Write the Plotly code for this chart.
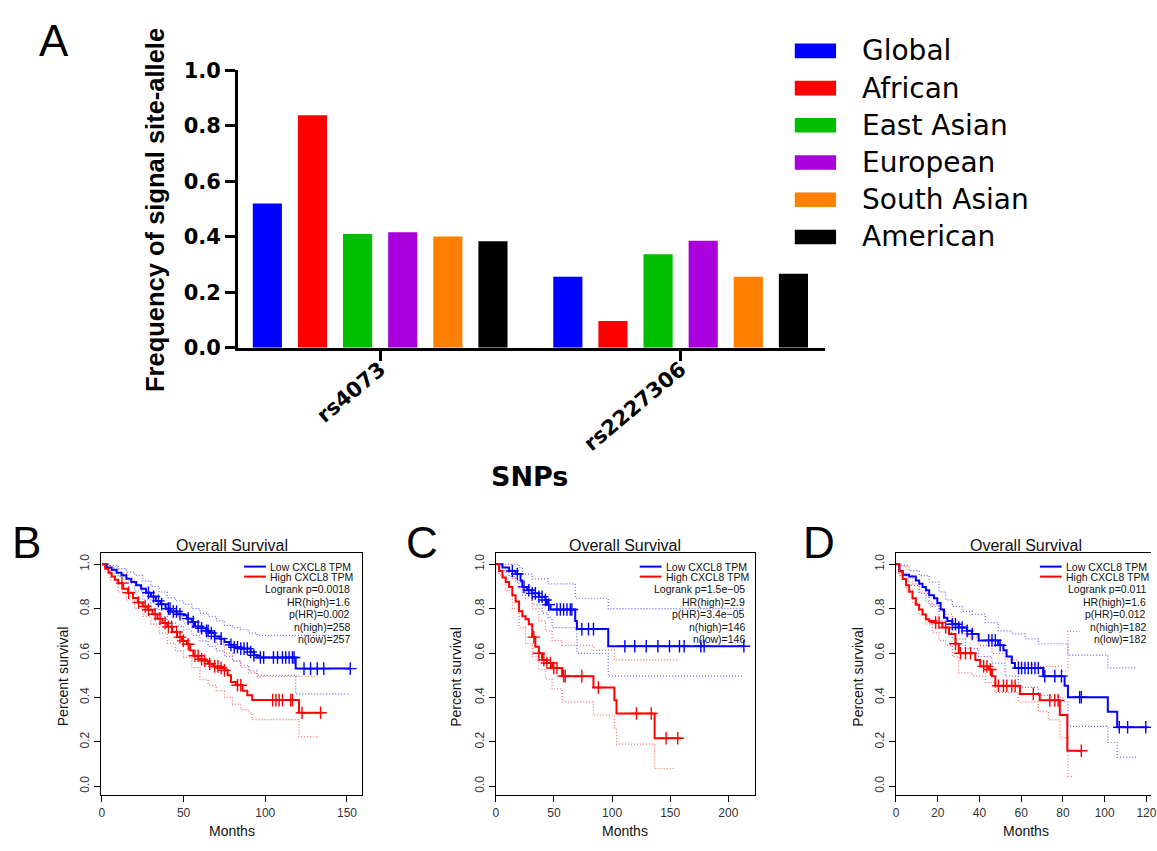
import plotly.graph_objects as go

# ---------------- Panel A data ----------------
snps = ["rs4073", "rs2227306"]
populations = ["Global", "African", "East Asian", "European", "South Asian", "American"]
pop_colors = ["#0000FF", "#FF0000", "#00BF00", "#AA00DD", "#FF8000", "#000000"]
freq_rs4073 = [0.520, 0.838, 0.410, 0.416, 0.401, 0.384]
freq_rs2227306 = [0.256, 0.096, 0.337, 0.386, 0.256, 0.267]
yticks_A = [0.0, 0.2, 0.4, 0.6, 0.8, 1.0]

# ---------------- Panel B data (months, survival) ----------------
B_LOW = [(0, 1.0), (3, 0.985), (6, 0.975), (9, 0.962), (12, 0.95), (15, 0.935), (18, 0.92), (21, 0.905),
         (24, 0.89), (27, 0.872), (30, 0.855), (33, 0.835), (36, 0.82), (39, 0.80), (42, 0.787), (46, 0.775),
         (50, 0.77), (52, 0.755), (55, 0.74), (57, 0.72), (61, 0.712), (64, 0.70), (66, 0.69), (69, 0.675),
         (72, 0.665), (75, 0.65), (78, 0.637), (81, 0.626), (85, 0.62), (91, 0.605), (93, 0.59), (95, 0.58),
         (118.6, 0.53), (152, 0.53)]
B_HIGH = [(0, 1.0), (2, 0.98), (4, 0.962), (6, 0.945), (8, 0.93), (10, 0.915), (13, 0.89), (16, 0.872),
          (19, 0.848), (22, 0.828), (25, 0.81), (28, 0.795), (31, 0.775), (34, 0.755), (37, 0.735), (40, 0.718),
          (43, 0.695), (46, 0.672), (49, 0.655), (52, 0.64), (54, 0.612), (56, 0.588), (59, 0.572), (62, 0.565),
          (65, 0.552), (68, 0.54), (72, 0.533), (75, 0.522), (77, 0.50), (79, 0.47), (82, 0.455), (86, 0.43),
          (89, 0.41), (92, 0.388), (120.6, 0.331), (134.8, 0.331)]
B_LOW_UP = [(0, 1.0), (5, 0.995), (10, 0.98), (15, 0.965), (20, 0.95), (25, 0.925), (30, 0.90), (35, 0.875),
            (40, 0.85), (45, 0.835), (50, 0.82), (55, 0.80), (60, 0.78), (65, 0.765), (70, 0.745), (75, 0.725),
            (80, 0.715), (85, 0.705), (90, 0.69), (95, 0.68), (152, 0.68)]
B_LOW_LO = [(0, 1.0), (5, 0.97), (10, 0.945), (15, 0.915), (20, 0.88), (25, 0.84), (30, 0.80), (35, 0.765),
            (40, 0.735), (45, 0.72), (50, 0.705), (55, 0.68), (60, 0.655), (65, 0.63), (70, 0.61), (75, 0.585),
            (80, 0.565), (85, 0.545), (90, 0.52), (95, 0.50), (118.6, 0.416), (152, 0.416)]
B_HIGH_UP = [(0, 1.0), (5, 0.985), (10, 0.96), (15, 0.93), (20, 0.905), (25, 0.875), (30, 0.85), (35, 0.82),
             (40, 0.79), (45, 0.765), (50, 0.735), (55, 0.715), (60, 0.695), (65, 0.665), (70, 0.64), (75, 0.60),
             (80, 0.565), (85, 0.535), (90, 0.51), (95, 0.495), (132, 0.495)]
B_HIGH_LO = [(0, 1.0), (5, 0.93), (10, 0.875), (15, 0.84), (20, 0.80), (25, 0.765), (30, 0.73), (35, 0.69),
             (40, 0.645), (45, 0.61), (50, 0.58), (55, 0.535), (60, 0.48), (65, 0.455), (70, 0.43), (75, 0.40),
             (80, 0.37), (85, 0.345), (90, 0.33), (92, 0.30), (120.6, 0.222), (132, 0.222)]
B_LOW_CENS = [28.5, 31.6, 34.6, 36.6, 40.7, 41.7, 43.7, 45.7, 47.8, 52.8, 55.9, 58.9, 61, 64, 65, 67, 69, 73, 79,
              81, 83, 85, 87, 89, 91, 93, 97, 99, 105, 107.5, 110.5, 112.5, 114.6, 116.6, 117.6, 123.7, 127.7,
              131.8, 135.8, 152]
B_HIGH_CENS = [12.3, 16.4, 22.5, 26.5, 28.5, 32.6, 35.6, 38.7, 40.7, 42.7, 45.7, 47.8, 49.8, 52.8, 57, 58.9, 61,
               63, 66, 69, 71, 73, 75, 83, 85, 104.5, 106.5, 108.5, 110.5, 115.6, 116.6, 122.5, 133.8]
B_STATS = ["Logrank p=0.0018", "HR(high)=1.6", "p(HR)=0.002", "n(high)=258", "n(low)=257"]

# ---------------- Panel C data ----------------
C_LOW = [(0, 1.0), (5.7, 0.985), (11.4, 0.97), (17, 0.956), (21.3, 0.927), (22.8, 0.898), (27, 0.883),
         (31.3, 0.869), (37, 0.854), (42.7, 0.839), (44, 0.818), (47, 0.796), (68.3, 0.745), (69.7, 0.708),
         (96.7, 0.631), (213.4, 0.631)]
C_HIGH = [(0, 1.0), (2.8, 0.97), (5.7, 0.94), (8.5, 0.92), (11.4, 0.898), (14.2, 0.861), (17, 0.832), (20, 0.788),
          (22.8, 0.766), (25.6, 0.752), (28.4, 0.73), (31.3, 0.672), (34, 0.628), (37, 0.599), (39.8, 0.569),
          (44, 0.555), (48.4, 0.533), (57, 0.496), (84, 0.445), (102, 0.387), (103.8, 0.328), (136.6, 0.216),
          (159.3, 0.216)]
C_LOW_UP = [(0, 1.0), (20, 0.985), (22.8, 0.956), (31.3, 0.934), (45, 0.912), (68.3, 0.847), (96.7, 0.80),
            (213.4, 0.80)]
C_LOW_LO = [(0, 1.0), (5.7, 0.97), (11.4, 0.945), (17, 0.92), (22.8, 0.861), (31.3, 0.818), (40, 0.78),
            (45, 0.759), (48.4, 0.715), (69.7, 0.599), (96.7, 0.496), (213.4, 0.496)]
C_HIGH_UP = [(0, 1.0), (2.8, 0.99), (8.5, 0.965), (14.2, 0.935), (20, 0.89), (25.6, 0.847), (31.3, 0.80),
             (37, 0.745), (42.7, 0.70), (48.4, 0.657), (57, 0.635), (84, 0.613), (102, 0.569), (156.5, 0.569)]
C_HIGH_LO = [(0, 1.0), (2.8, 0.95), (8.5, 0.883), (14.2, 0.80), (20, 0.715), (25.6, 0.642), (31.3, 0.584),
             (37, 0.526), (42.7, 0.482), (48.4, 0.438), (57, 0.38), (84, 0.321), (102, 0.263), (103.8, 0.19),
             (136.6, 0.08), (154, 0.08)]
C_LOW_CENS = [14.2, 18.5, 24.2, 28.4, 31.3, 34, 37, 39.8, 42.7, 45.5, 52.6, 55.5, 58.3, 61.2, 64, 65.4, 74, 79.7,
              84, 111, 119.5, 129.4, 139.4, 149.4, 158, 162, 176.4, 179.2, 213.4]
C_HIGH_CENS = [32.7, 37, 41.3, 44, 47, 49.8, 52.6, 58.3, 59.7, 74, 88.2, 121, 133.7, 146.5, 156.5]
C_STATS = ["Logrank p=1.5e\u221205", "HR(high)=2.9", "p(HR)=3.4e\u221205", "n(high)=146", "n(low)=146"]

# ---------------- Panel D data ----------------
D_LOW = [(0, 1.0), (1.6, 0.97), (3.2, 0.953), (6.3, 0.945), (9.5, 0.927), (11.1, 0.912), (12.7, 0.898),
         (14.3, 0.883), (15.9, 0.861), (18.2, 0.847), (19.8, 0.825), (21.4, 0.796), (23, 0.759), (24.6, 0.745),
         (27, 0.73), (30, 0.715), (34, 0.70), (36.5, 0.686), (39.6, 0.657), (49, 0.635), (51.5, 0.613),
         (53, 0.584), (55.5, 0.555), (57, 0.533), (70.5, 0.496), (80.8, 0.453), (82.4, 0.401), (101.5, 0.336),
         (106, 0.266), (120.5, 0.266)]
D_HIGH = [(0, 1.0), (1.6, 0.967), (3.2, 0.934), (4.8, 0.905), (6.3, 0.876), (7.9, 0.847), (9.5, 0.818),
          (11.1, 0.796), (12.7, 0.774), (14.3, 0.752), (15.9, 0.745), (19, 0.737), (22.2, 0.715), (25.4, 0.686),
          (28.5, 0.642), (30.1, 0.599), (38, 0.569), (40.4, 0.54), (44.4, 0.526), (46, 0.496), (47.6, 0.453),
          (59.4, 0.416), (68.9, 0.387), (78.5, 0.321), (82.1, 0.16), (88.8, 0.16)]
D_LOW_UP = [(0, 1.0), (1.6, 0.995), (6.3, 0.97), (11.1, 0.949), (15.9, 0.92), (20.6, 0.876), (23.8, 0.84),
            (27, 0.81), (31.7, 0.788), (36.5, 0.774), (42.8, 0.737), (49, 0.70), (55.5, 0.686), (61.9, 0.664),
            (68.2, 0.642), (82.4, 0.591), (101.5, 0.533), (115, 0.533)]
D_LOW_LO = [(0, 1.0), (1.6, 0.949), (6.3, 0.905), (11.1, 0.869), (15.9, 0.818), (20.6, 0.745), (23.8, 0.693),
            (27, 0.664), (33.3, 0.62), (39.6, 0.584), (45.9, 0.555), (52.3, 0.496), (58.6, 0.445), (68.2, 0.409),
            (74.6, 0.401), (80, 0.38), (82.4, 0.27), (101.5, 0.197), (106, 0.131), (115, 0.131)]
D_HIGH_UP = [(0, 1.0), (1.6, 0.993), (4.8, 0.949), (7.9, 0.912), (11.1, 0.876), (14.3, 0.832), (17.4, 0.81),
             (20.6, 0.788), (23.8, 0.774), (27, 0.73), (30.1, 0.686), (34.9, 0.672), (39.6, 0.635), (46, 0.599),
             (52.3, 0.569), (58.6, 0.547), (68.2, 0.54), (79.3, 0.518), (82.4, 0.698), (88, 0.698)]
D_HIGH_LO = [(0, 1.0), (1.6, 0.949), (4.8, 0.883), (7.9, 0.825), (11.1, 0.774), (14.3, 0.73), (17.4, 0.693),
             (20.6, 0.657), (23.8, 0.635), (27, 0.584), (30.1, 0.511), (36.5, 0.496), (42.8, 0.467), (47.6, 0.423),
             (58.6, 0.38), (68.2, 0.336), (73, 0.299), (78.5, 0.219), (82.4, 0.044), (84.4, 0.044)]
D_LOW_CENS = [27, 28.5, 30.1, 31.7, 34.1, 36.5, 44.4, 46, 47.6, 49.9, 58.7, 60.2, 61.8, 63.4, 65, 66.6, 68.2, 71.3,
              76.1, 79.3, 88, 88.8, 107, 111, 119.7]
D_HIGH_CENS = [19, 20.6, 23.8, 28.5, 30.9, 33.3, 35.7, 42, 43.6, 45.2, 49.1, 51.5, 53.1, 55.5, 57.1, 65.8, 73.7,
               76.1, 77.7, 88.8]
D_STATS = ["Logrank p=0.011", "HR(high)=1.6", "p(HR)=0.012", "n(high)=182", "n(low)=182"]

KM_LEGEND = ["Low CXCL8 TPM", "High CXCL8 TPM"]
KM_YTICKS = [0.0, 0.2, 0.4, 0.6, 0.8, 1.0]

# ---------------- helpers ----------------
W, H = 1157, 851


def fx(px):
    return px / W


def fy(py):
    return 1 - py / H


def step_at(curve, t):
    val = curve[0][1]
    for ti, si in curve:
        if ti <= t:
            val = si
        else:
            break
    return val


BLUE, RED = "#0000FF", "#FF0000"
BLUE_CI, RED_CI = "rgba(60,60,255,0.8)", "rgba(255,60,60,0.8)"
ARIAL = "Liberation Sans"

fig = go.Figure()

# ---------------- Panel A bars ----------------
for i, pop in enumerate(populations):
    fig.add_trace(go.Bar(
        x=snps, y=[freq_rs4073[i], freq_rs2227306[i]], name=pop,
        marker=dict(color=pop_colors[i], line=dict(width=0)),
        xaxis="x", yaxis="y", showlegend=False))

# ---------------- KM panels ----------------
panels = [
    ("2", B_LOW, B_HIGH, B_LOW_UP, B_LOW_LO, B_HIGH_UP, B_HIGH_LO, B_LOW_CENS, B_HIGH_CENS),
    ("3", C_LOW, C_HIGH, C_LOW_UP, C_LOW_LO, C_HIGH_UP, C_HIGH_LO, C_LOW_CENS, C_HIGH_CENS),
    ("4", D_LOW, D_HIGH, D_LOW_UP, D_LOW_LO, D_HIGH_UP, D_HIGH_LO, D_LOW_CENS, D_HIGH_CENS),
]
for k, low, high, lup, llo, hup, hlo, lc, hc in panels:
    xa, ya = "x" + k, "y" + k
    for curve, col in [(lup, BLUE_CI), (llo, BLUE_CI), (hup, RED_CI), (hlo, RED_CI)]:
        fig.add_trace(go.Scatter(x=[p[0] for p in curve], y=[p[1] for p in curve], mode="lines",
                                 line=dict(color=col, width=1.2, dash="1px,2px", shape="hv"),
                                 xaxis=xa, yaxis=ya, showlegend=False, hoverinfo="skip"))
    for curve, col, cens, nm in [(low, BLUE, lc, KM_LEGEND[0]), (high, RED, hc, KM_LEGEND[1])]:
        fig.add_trace(go.Scatter(x=[p[0] for p in curve], y=[p[1] for p in curve], mode="lines", name=nm,
                                 line=dict(color=col, width=2, shape="hv"),
                                 xaxis=xa, yaxis=ya, showlegend=False))
        fig.add_trace(go.Scatter(x=cens, y=[step_at(curve, t) for t in cens], mode="markers",
                                 marker=dict(symbol="cross-thin", size=9, line=dict(color=col, width=1.4)),
                                 xaxis=xa, yaxis=ya, showlegend=False, hoverinfo="skip"))

# ---------------- Layout ----------------
km_y_dom = [fy(806), fy(557)]
km_yrange = [-0.0407, 1.0495]


def km_xaxis(dom, rng, tickvals, mirror=True):
    return dict(domain=dom, range=rng, tickvals=tickvals, showline=True, linecolor="black", linewidth=1,
                mirror=mirror, ticks="outside", ticklen=6, tickcolor="black", showgrid=False, zeroline=False,
                tickfont=dict(family=ARIAL, size=12, color="#333"))


def km_yaxis(anchor, mirror=True):
    return dict(domain=km_y_dom, range=km_yrange, tickvals=KM_YTICKS, ticktext=["%.1f" % v for v in KM_YTICKS],
                tickangle=-90, showline=True, linecolor="black", linewidth=1, mirror=mirror, ticks="outside",
                ticklen=6, tickcolor="black", showgrid=False, zeroline=False, anchor=anchor,
                tickfont=dict(family=ARIAL, size=12, color="#333"))


layout = dict(
    width=W, height=H, margin=dict(l=0, r=0, t=0, b=0), paper_bgcolor="white", plot_bgcolor="white",
    barmode="group", bargap=0.099, bargroupgap=0.354, showlegend=False,
    xaxis=dict(domain=[fx(237), fx(828)], range=[-0.4726, 1.479], type="category", showline=True,
               linecolor="black", linewidth=3, ticks="outside", ticklen=10, tickwidth=3, tickcolor="black",
               tickangle=-40, ticklabelstandoff=-12, showgrid=False, zeroline=False, anchor="y",
               tickfont=dict(family="DejaVu Sans", size=21, color="black", weight="bold")),
    yaxis=dict(domain=[fy(345.5), fy(60)], range=[0, 1], tickvals=yticks_A,
               ticktext=["%.1f" % v for v in yticks_A], showline=True, linecolor="black", linewidth=3,
               ticks="outside", ticklen=10, tickwidth=3, tickcolor="black", showgrid=False, zeroline=False,
               anchor="x", tickfont=dict(family="DejaVu Sans", size=21, color="black", weight="bold")),
    xaxis2=km_xaxis([fx(99), fx(362)], [-0.4, 159.3], [0, 50, 100, 150]) | dict(anchor="y2"),
    yaxis2=km_yaxis("x2"),
    xaxis3=km_xaxis([fx(496.7), fx(757.7)], [0, 222.8], [0, 50, 100, 150, 200]) | dict(anchor="y3"),
    yaxis3=km_yaxis("x3"),
    xaxis4=km_xaxis([fx(900), 1.0], [0, 122.2], [0, 20, 40, 60, 80, 100, 120])
    | dict(anchor="y4", ticklabeloverflow="allow"),
    yaxis4=km_yaxis("x4", mirror=False),
)
fig.update_layout(**layout)

ann = []
shapes = []


def text(x, y, s, size, family=ARIAL, color="black", xanchor="center", angle=0, weight="normal"):
    ann.append(dict(x=fx(x), y=fy(y), xref="paper", yref="paper", text=s, showarrow=False, xanchor=xanchor,
                    yanchor="middle", textangle=angle,
                    font=dict(family=family, size=size, color=color, weight=weight)))


# Panel A texts
text(51, 29, "A", 44)
text(153, 204, "Frequency of signal site-allele", 25.5, weight="bold", angle=-90)
text(531, 478, "SNPs", 27, family="DejaVu Sans", weight="bold")
for i, pop in enumerate(populations):
    yc = 40 + i * 38.3
    shapes.append(dict(type="rect", xref="paper", yref="paper", x0=fx(798), x1=fx(839.6), y0=fy(yc - 7.5),
                       y1=fy(yc + 7.5), fillcolor=pop_colors[i], line=dict(width=0)))
    text(863.7, yc, pop, 28, family="DejaVu Sans", xanchor="left")

# KM panel texts
km_cfg = [
    ("B", 23.5, 230.5, 60, 243, 352, B_STATS),
    ("C", 422.5, 627, 456.7, 641.7, 750, C_STATS),
    ("D", 822.5, 1031, 861.7, 1045, 1154, D_STATS),
]
stat_y = [593.3, 607, 619.5, 632.5, 645]
for letter, lx, cx, ylabx, legx, statx, stats in km_cfg:
    text(lx, 546, letter, 44)
    text(cx, 549, "Overall Survival", 16, color="#111")
    text(cx, 843, "Months", 14, color="#111")
    text(ylabx, 684, "Percent survival", 14, color="#111", angle=-90)
    for j, (lab, col, yy) in enumerate([(KM_LEGEND[0], BLUE, 570.7), (KM_LEGEND[1], RED, 581)]):
        shapes.append(dict(type="line", xref="paper", yref="paper", x0=fx(legx), x1=fx(legx + 22), y0=fy(yy),
                           y1=fy(yy), line=dict(color=col, width=2)))
        text(legx + 24, yy, lab, 10.5, color="#111", xanchor="left")
    for s, yy in zip(stats, stat_y):
        text(statx, yy, s, 10.5, color="#111", xanchor="right")

fig.update_layout(annotations=ann, shapes=shapes)
fig.write_html("out.html", config={"displayModeBar": False},
               post_script="document.body.style.margin='0';document.body.style.overflow='hidden';")
